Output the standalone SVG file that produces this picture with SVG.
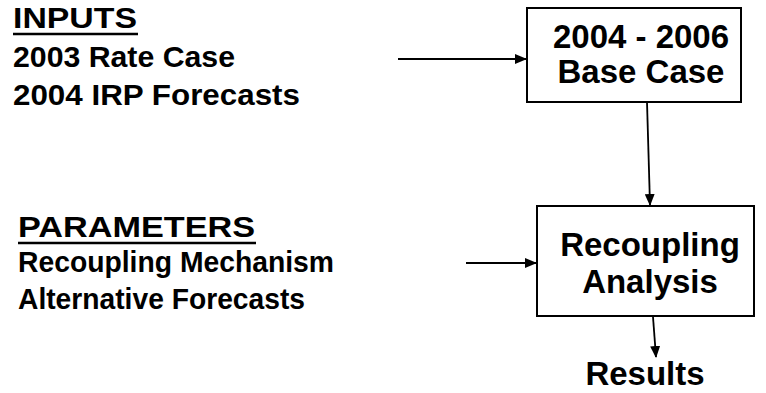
<svg xmlns="http://www.w3.org/2000/svg" width="766" height="393" viewBox="0 0 766 393">
  <style>
    .t { font-family: "Liberation Sans", Arial, sans-serif; font-weight: bold; font-size: 30px; fill: #000; }
    .b { font-size: 33px; }
    .c { text-anchor: middle; }
    .box { fill: #fff; stroke: #000; stroke-width: 2; }
    .conn { stroke: #000; stroke-width: 1.8; fill: none; }
    .ul { stroke: #000; stroke-width: 2.5; }
  </style>
  <defs>
    <marker id="arrow" markerWidth="12" markerHeight="10" refX="11" refY="5" orient="auto" markerUnits="userSpaceOnUse">
      <path d="M0,0 L12,5 L0,10 Z" fill="#000"/>
    </marker>
  </defs>
  <rect width="766" height="393" fill="#fff"/>

  <g id="inputs">
    <text class="t" x="13" y="28" textLength="124" lengthAdjust="spacingAndGlyphs">INPUTS</text>
    <line class="ul" x1="13" y1="34" x2="138" y2="34"/>
    <text class="t" x="13" y="67" textLength="222" lengthAdjust="spacingAndGlyphs">2003 Rate Case</text>
    <text class="t" x="13" y="105" textLength="287" lengthAdjust="spacingAndGlyphs">2004 IRP Forecasts</text>
  </g>

  <g id="parameters">
    <text class="t" x="18" y="237" textLength="237" lengthAdjust="spacingAndGlyphs">PARAMETERS</text>
    <line class="ul" x1="18" y1="243" x2="256" y2="243"/>
    <text class="t" x="18" y="272" textLength="316" lengthAdjust="spacingAndGlyphs">Recoupling Mechanism</text>
    <text class="t" x="18" y="309" textLength="287" lengthAdjust="spacingAndGlyphs">Alternative Forecasts</text>
  </g>

  <g id="base-case">
    <rect class="box" x="527" y="8" width="214" height="94"/>
    <text class="t b c" x="641" y="48">2004 - 2006</text>
    <text class="t b c" x="641" y="83">Base Case</text>
  </g>

  <g id="recoupling-analysis">
    <rect class="box" x="537" y="206" width="217" height="110"/>
    <text class="t b c" x="650" y="256">Recoupling</text>
    <text class="t b c" x="650" y="293">Analysis</text>
  </g>

  <g id="results">
    <text class="t b c" x="645" y="385">Results</text>
  </g>

  <g id="connectors">
    <line class="conn" x1="398" y1="59" x2="526" y2="59" marker-end="url(#arrow)"/>
    <line class="conn" x1="466" y1="263" x2="536" y2="263" marker-end="url(#arrow)"/>
    <line class="conn" x1="647" y1="102" x2="650" y2="205" marker-end="url(#arrow)"/>
    <line class="conn" x1="653" y1="317" x2="656" y2="357" marker-end="url(#arrow)"/>
  </g>
</svg>
